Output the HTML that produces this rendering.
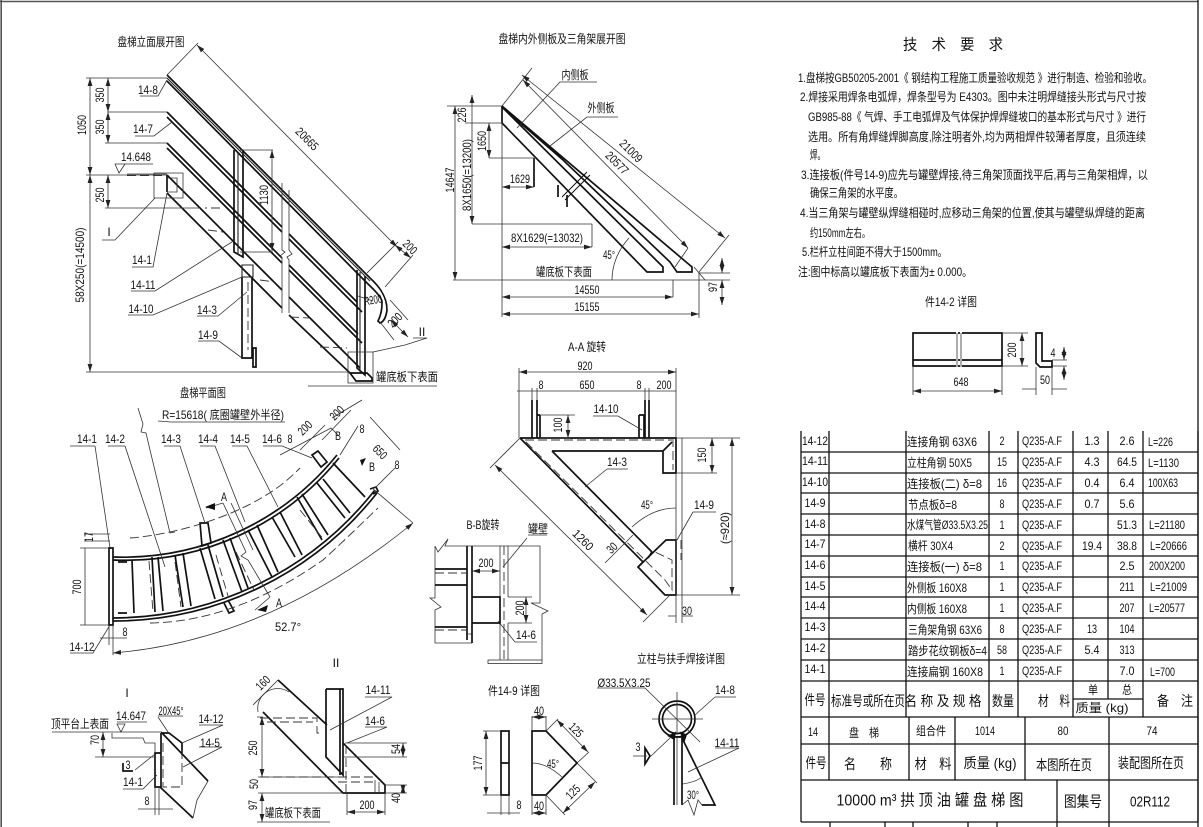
<!DOCTYPE html>
<html><head><meta charset="utf-8"><style>
html,body{margin:0;padding:0;background:#fff}
svg{display:block}
text{font-family:"Liberation Sans","Noto Sans CJK SC",sans-serif;font-size:12px;fill:#111;text-anchor:middle;dominant-baseline:central;stroke:none}
text.l{text-anchor:start}
text.b{font-size:14px}
.t{stroke:#333;stroke-width:.8;fill:none}
.h{stroke:#111;stroke-width:1.7;fill:none}
.m{stroke:#222;stroke-width:1.1;fill:none}
.da{stroke:#333;stroke-width:.9;fill:none;stroke-dasharray:9 4}
.a{stroke:#333;stroke-width:.8;fill:none;marker-start:url(#ar);marker-end:url(#ar)}
.tb{stroke:#111;stroke-width:1.3;fill:none}
</style></head><body>
<svg width="1203" height="827" viewBox="0 0 1203 827" xmlns="http://www.w3.org/2000/svg">
<defs><marker id="ar" viewBox="0 0 10 6" refX="10" refY="3" markerWidth="8" markerHeight="5" orient="auto-start-reverse" markerUnits="userSpaceOnUse"><path d="M0 0L10 3L0 6z" fill="#222"/></marker></defs>
<rect width="1203" height="827" fill="#fff"/>
<path d="M0 1.5H1198M1.2 0V827" stroke="#555" stroke-width="1.6" fill="none"/>
<path d="M1198 0V827" stroke="#111" stroke-width="1.3" fill="none"/>

<!-- ELEVATION -->
<text lengthAdjust="spacingAndGlyphs" x="151" y="42" textLength="67">盘梯立面展开图</text>
<g class="h">
<path d="M167 75L370 278C380 287 387 297 387 310C386 318 383 322 380 323L378 321C382 313 382 306 382 301C380 295 372 288 365 281L167 81"/>
<path d="M167 112L282 227M167 117L282 232M289 234L357 302M289 239L362 312M167 143L282 258M167 148L282 263M289 265L358 334M289 270L362 343M167 175L282 290M289 297L360 368M167 193L282 308M289 315L350 373"/>
<path d="M234 150V252L243 257V150M357 270V368L365 375V276M167 175V192"/>
<path d="M242 277V358H253M252 277V358M253 348H256V367H253z"/>
<path d="M350 373L367 373L372 378L372 381H356z"/>
</g>
<g class="m">
<path d="M167 78L370 281M238 153V255M360 272V372M242 277H253V265H242V277"/>
</g>
<path d="M282 183V250L285 252L280 256L282 258V313M289 190V250L292 254L287 257L289 260V313" class="t"/>
<path d="M248 282V350M208 230L223 232M220 208L205 208M260 280L275 282M290 317L310 318M320 347L347 348M127 175.500H167" class="da"/>
<g class="t">
<path d="M86 78H167M108 112H167M105 143H167M86 175H167M105 208H200M86 372H350"/>
<path d="M127 174H167M154 173H183V198H154zM167 178H177V192H167M348 352H373V383H348z"/>
<path d="M117 164H153M115 164H125L119 173z"/>
<path d="M140 96H158L167 80M135 136H154L172 122M102 240H115L155 198M132 267H153L167 193M131 291H155L235 240M128 315H153L242 277M197 316H218L247 292M198 341H219L242 358M413 338H427L405 345L373 352M308 386H437"/>
<path d="M167 75L198 43M367 273L398 242M385 287L413 255M240 150H273M240 252H273"/>
<path d="M373 301L358 296M390 300L408 320M380 322L394 340"/>
</g>
<path class="a" d="M90 78V175"/><path class="a" d="M90 175V372"/><path class="a" d="M108 78V112"/><path class="a" d="M108 112V143"/><path class="a" d="M108 175V208"/><path class="a" d="M197 45L397 247"/><path class="a" d="M395 245L411 258"/><path class="a" d="M272 150V251"/><path class="a" d="M391 320L408 337" />
<text lengthAdjust="spacingAndGlyphs" x="148" y="90" textLength="20">14-8</text><text lengthAdjust="spacingAndGlyphs" x="143" y="129" textLength="20">14-7</text><text x="109" y="232">I</text>
<text lengthAdjust="spacingAndGlyphs" x="142" y="260" textLength="20">14-1</text><text lengthAdjust="spacingAndGlyphs" x="143" y="285" textLength="25">14-11</text><text lengthAdjust="spacingAndGlyphs" x="141" y="309" textLength="25">14-10</text>
<text lengthAdjust="spacingAndGlyphs" x="207" y="310" textLength="20">14-3</text><text lengthAdjust="spacingAndGlyphs" x="208" y="335" textLength="20">14-9</text><text lengthAdjust="spacingAndGlyphs" x="136" y="157" textLength="30">14.648</text>
<text x="422" y="332">II</text><text lengthAdjust="spacingAndGlyphs" x="407" y="377" textLength="62">罐底板下表面</text><text lengthAdjust="spacingAndGlyphs" x="373" y="300" textLength="18" transform="rotate(-10 373 300)">R200</text>
<text lengthAdjust="spacingAndGlyphs" x="100" y="95" textLength="15" transform="rotate(-90 100 95)">350</text><text lengthAdjust="spacingAndGlyphs" x="100" y="127" textLength="15" transform="rotate(-90 100 127)">350</text><text lengthAdjust="spacingAndGlyphs" x="82" y="125" textLength="20" transform="rotate(-90 82 125)">1050</text>
<text lengthAdjust="spacingAndGlyphs" x="100" y="195" textLength="15" transform="rotate(-90 100 195)">250</text><text lengthAdjust="spacingAndGlyphs" x="80" y="265" textLength="75" transform="rotate(-90 80 265)">58X250(=14500)</text>
<text lengthAdjust="spacingAndGlyphs" x="264" y="195" textLength="20" transform="rotate(-90 264 195)">1130</text>
<text lengthAdjust="spacingAndGlyphs" x="307" y="139" textLength="27" transform="rotate(45 307 139)">20665</text><text lengthAdjust="spacingAndGlyphs" x="410" y="247" textLength="15" transform="rotate(45 410 247)">200</text><text lengthAdjust="spacingAndGlyphs" x="395" y="320" textLength="15" transform="rotate(-45 395 320)">200</text>

<!-- PLAN -->
<text lengthAdjust="spacingAndGlyphs" x="203" y="393" textLength="46">盘梯平面图</text>
<text lengthAdjust="spacingAndGlyphs" x="223" y="415" textLength="122">R=15618( 底圈罐壁外半径)</text>
<g class="h">
<path d="M113 557A275 275 0 0 0 337 455M113 560A275 275 0 0 0 339 458M113 618A335 335 0 0 0 375 490M113 621A335 335 0 0 0 377 493"/>
<path d="M109 548H113V625H109zM118 562H127M118 613H127"/>
<path d="M132 560L134 613M152 557L155 612M158 557L163 611M175 555L183 607M183 553L191 606M200 548L215 599M208 545L223 597M223 540L242 592M230 538L248 588M248 530L272 577M257 525L278 572M272 517L295 557M280 512L302 555M297 497L322 540M302 494L328 535M317 483L345 518M323 479L350 513M333 463L365 497"/>
<path d="M200 523H208L211 543L202 546zM228 600L234 611L229 613L224 603M312 455L318 451L327 462L321 467zM370 489L376 487L378 491L373 494"/>
</g>
<g class="da">
<path d="M130 538C170 535 225 520 263 497C280 487 290 478 300 468"/>
<path d="M150 623C220 622 280 590 323 560C345 540 360 525 378 508"/>
<path d="M149 561L153 612M175 562L181 607M216 555L228 596M236 552L254 590M300 510L324 540"/>
</g>
<g class="t">
<path d="M158 421L171 422H285M138 408L143 424L141 432L146 433L150 450L170 533M170 533L175 532"/>
<path d="M95 446H70M95 446L110 548M108 446H125L165 567M164 446H180L205 523M200 446H215L245 522M232 446H247L278 507M263 446H282L312 458"/>
<path d="M80 548H109M80 625H109M85 548V625"/>
<path d="M84 534H110M84 541H110"/>
<path d="M223 503L246 552L241 556L248 560L270 597M231 503L253 550M223 503L206 508M270 597L255 610M280 455L331 428L338 435M300 450L325 425"/>
<path d="M70 653H93L110 625M113 625V655M109 625V645M100 638H127"/>
<path d="M372 488L413 523M340 455L358 426M322 440L351 410M332 418L362 400M375 488L395 468M370 417L400 450"/>
</g>
<path class="a" d="M113 653Q270 640 413 523"/>
<text lengthAdjust="spacingAndGlyphs" x="87" y="439" textLength="20">14-1</text><text lengthAdjust="spacingAndGlyphs" x="115" y="439" textLength="20">14-2</text><text lengthAdjust="spacingAndGlyphs" x="171" y="439" textLength="20">14-3</text><text lengthAdjust="spacingAndGlyphs" x="208" y="439" textLength="20">14-4</text><text lengthAdjust="spacingAndGlyphs" x="240" y="439" textLength="20">14-5</text><text lengthAdjust="spacingAndGlyphs" x="272" y="439" textLength="20">14-6</text>
<text lengthAdjust="spacingAndGlyphs" x="288" y="627" textLength="26">52.7°</text><text lengthAdjust="spacingAndGlyphs" x="77" y="587" textLength="15" transform="rotate(-90 77 587)">700</text><text lengthAdjust="spacingAndGlyphs" x="89" y="537" textLength="10" transform="rotate(-90 89 537)">17</text><text lengthAdjust="spacingAndGlyphs" x="125" y="632" textLength="5">8</text><text lengthAdjust="spacingAndGlyphs" x="82" y="647" textLength="25">14-12</text>
<text lengthAdjust="spacingAndGlyphs" x="337" y="413" textLength="15" transform="rotate(-45 337 413)">200</text><text lengthAdjust="spacingAndGlyphs" x="305" y="428" textLength="15" transform="rotate(-45 305 428)">200</text><text lengthAdjust="spacingAndGlyphs" x="290" y="439" textLength="5">8</text><text lengthAdjust="spacingAndGlyphs" x="362" y="429" textLength="5">8</text><text lengthAdjust="spacingAndGlyphs" x="380" y="452" textLength="15" transform="rotate(45 380 452)">650</text><text lengthAdjust="spacingAndGlyphs" x="397" y="465" textLength="5">8</text>
<text lengthAdjust="spacingAndGlyphs" x="338" y="436" textLength="6">B</text><text lengthAdjust="spacingAndGlyphs" x="372" y="467" textLength="6">B</text><text lengthAdjust="spacingAndGlyphs" x="224" y="497" textLength="6">A</text><text lengthAdjust="spacingAndGlyphs" x="279" y="603" textLength="6">A</text>
<path d="M205 507L215 503L215 510zM257 610L268 605L266 612zM360 460L366 458L362 466zM325 430L335 432" fill="#111"/>

<!-- TOP MIDDLE -->
<text lengthAdjust="spacingAndGlyphs" x="562" y="39" textLength="127">盘梯内外侧板及三角架展开图</text>
<g class="h">
<path d="M502 106L692 267V272H677L670 262L563 160L502 107M502 107L663 267V272H647L502 123V106"/>
<path d="M534 158V187M558 185V197M567 195V207"/>
<path d="M562 197L587 172M565 200L590 175" stroke-width="1"/>
</g>
<g class="t">
<path d="M447 106H502M465 123H502M489 158H534M472 224H592M592 224V247M502 123V317M453 280H730M673 280V297M699 272V318M699 273H730"/>
<path d="M502 106L532 68M699 272L729 235M675 267L688 248M517 128L560 82H597M550 146L587 117H618M705 280L694 267"/>
<path d="M629 238C618 250 612 265 612 280"/>
</g>
<path class="a" d="M455 106V280"/><path class="a" d="M472 95V224"/><path class="a" d="M489 123V158"/><path class="a" d="M502 187H534"/><path class="a" d="M502 247H592"/><path class="a" d="M502 297H673"/><path class="a" d="M502 314H699"/><path class="a" d="M522 75L725 238"/><path class="a" d="M523 80L688 248"/><path class="a" d="M722 258V273"/><path class="a" d="M722 305V280"/>
<text lengthAdjust="spacingAndGlyphs" x="575" y="75" textLength="27">内侧板</text><text lengthAdjust="spacingAndGlyphs" x="601" y="108" textLength="27">外侧板</text><text lengthAdjust="spacingAndGlyphs" x="564" y="272" textLength="56">罐底板下表面</text>
<text lengthAdjust="spacingAndGlyphs" x="587" y="290" textLength="25">14550</text><text lengthAdjust="spacingAndGlyphs" x="587" y="307" textLength="25">15155</text><text lengthAdjust="spacingAndGlyphs" x="547" y="238" textLength="72">8X1629(=13032)</text><text lengthAdjust="spacingAndGlyphs" x="520" y="179" textLength="20">1629</text>
<text lengthAdjust="spacingAndGlyphs" x="482" y="141" textLength="20" transform="rotate(-90 482 141)">1650</text><text lengthAdjust="spacingAndGlyphs" x="462" y="115" textLength="15" transform="rotate(-90 462 115)">226</text><text lengthAdjust="spacingAndGlyphs" x="467" y="175" textLength="72" transform="rotate(-90 467 175)">8X1650(=13200)</text><text lengthAdjust="spacingAndGlyphs" x="450" y="180" textLength="25" transform="rotate(-90 450 180)">14647</text><text lengthAdjust="spacingAndGlyphs" x="713" y="287" textLength="10" transform="rotate(-90 713 287)">97</text>
<text lengthAdjust="spacingAndGlyphs" x="631" y="151" textLength="27" transform="rotate(45 631 151)">21009</text><text lengthAdjust="spacingAndGlyphs" x="617" y="163" textLength="27" transform="rotate(45 617 163)">20577</text><text lengthAdjust="spacingAndGlyphs" x="609" y="255" textLength="12">45°</text>

<!-- A-A -->
<text lengthAdjust="spacingAndGlyphs" x="587" y="347" textLength="38">A-A 旋转</text>
<g class="h">
<path d="M520 438H676V473H663V451L672 442M552 451H663M520 438L643 562M552 451L652 552M638 567L666 540H676V595H665L638 567L666 540"/>
<path d="M532 400V438M537 400V438M540 415V438M537 415H540M639 415V438M644 415V438M645 400V438M649 400V438M639 415H644"/>
<path d="M643 562L638 567M652 552L648 558" />
</g>
<g class="da"><path d="M525 440H672M526 442L665 580L672 590V560L655 552M673 438V470M681 540V560"/></g>
<g class="t">
<path d="M519 368V438M676 368V438M682 438V623M676 473V623M677 473H717M677 438H740M677 595H740"/>
<path d="M532 388V400M537 388V400M645 388V400M649 388V400"/>
<path d="M540 415H575M540 438H570M520 438L490 468M670 595L643 622"/>
<path d="M607 469H628M607 469L585 487M693 512H716M693 512L677 540M593 416H618L642 430M605 563L633 535"/>
<path d="M632 527C645 515 660 508 676 508"/>
<path d="M668 616H676M682 616H693"/>
</g>
<path class="a" d="M519 372H676"/><path d="M517 391H676" class="t"/><path class="a" d="M568 415V438"/><path class="a" d="M712 438V473"/><path class="a" d="M732 438V595"/><path class="a" d="M495 465L647 615"/>
<text lengthAdjust="spacingAndGlyphs" x="585" y="366" textLength="15">920</text><text lengthAdjust="spacingAndGlyphs" x="541" y="385" textLength="5">8</text><text lengthAdjust="spacingAndGlyphs" x="587" y="385" textLength="15">650</text><text lengthAdjust="spacingAndGlyphs" x="639" y="385" textLength="5">8</text><text lengthAdjust="spacingAndGlyphs" x="664" y="385" textLength="15">200</text>
<text lengthAdjust="spacingAndGlyphs" x="606" y="409" textLength="25">14-10</text><text lengthAdjust="spacingAndGlyphs" x="617" y="462" textLength="20">14-3</text><text lengthAdjust="spacingAndGlyphs" x="704" y="505" textLength="20">14-9</text><text lengthAdjust="spacingAndGlyphs" x="647" y="505" textLength="12">45°</text><text lengthAdjust="spacingAndGlyphs" x="687" y="611" textLength="10">30</text>
<text lengthAdjust="spacingAndGlyphs" x="558" y="425" textLength="15" transform="rotate(-90 558 425)">100</text><text lengthAdjust="spacingAndGlyphs" x="702" y="455" textLength="15" transform="rotate(-90 702 455)">150</text><text lengthAdjust="spacingAndGlyphs" x="725" y="528" textLength="32" transform="rotate(-90 725 528)">(≈920)</text><text lengthAdjust="spacingAndGlyphs" x="583" y="540" textLength="24" transform="rotate(45 583 540)">1260</text><text lengthAdjust="spacingAndGlyphs" x="612" y="548" textLength="10" transform="rotate(-45 612 548)">30</text>

<!-- B-B -->
<text lengthAdjust="spacingAndGlyphs" x="483" y="525" textLength="33">B-B旋转</text><text lengthAdjust="spacingAndGlyphs" x="538" y="529" textLength="20">罐壁</text>
<g class="t">
<path d="M435 546L438 552L448 539L445 546H540V603L531 603L548 611L542 614V660M435 546V598L430 598L441 607L435 610V643H472M500 546V660M508 546V597M508 623V660"/>
<rect x="488" y="660" width="54" height="3.500"/>
<path d="M508 597H532M508 623H532M528 535H547M527 538L503 567M515 642H537M515 642L498 621M468 634H472V643"/>
</g>
<g class="h"><path d="M467 546V640M472 546V643M435 569H467M435 585H467M435 627H467M472 597H500V623H472"/></g>
<path class="da" d="M435 573H467M435 630H467M504 546V660"/>
<path class="a" d="M472 571H500"/><path class="a" d="M526 597V623"/>
<text lengthAdjust="spacingAndGlyphs" x="486" y="563" textLength="15">200</text><text lengthAdjust="spacingAndGlyphs" x="520" y="608" textLength="15" transform="rotate(-90 520 608)">200</text><text lengthAdjust="spacingAndGlyphs" x="526" y="635" textLength="20">14-6</text>

<!-- DETAIL I -->
<text x="127" y="693">I</text><text lengthAdjust="spacingAndGlyphs" x="80" y="724" textLength="58">顶平台上表面</text><text lengthAdjust="spacingAndGlyphs" x="131" y="716" textLength="30">14.647</text><text lengthAdjust="spacingAndGlyphs" x="171" y="711" textLength="25">20X45°</text><text lengthAdjust="spacingAndGlyphs" x="211" y="719" textLength="25">14-12</text><text lengthAdjust="spacingAndGlyphs" x="210" y="743" textLength="20">14-5</text><text lengthAdjust="spacingAndGlyphs" x="128" y="765" textLength="5">3</text><text lengthAdjust="spacingAndGlyphs" x="133" y="782" textLength="20">14-1</text><text lengthAdjust="spacingAndGlyphs" x="147" y="801" textLength="5">8</text><text lengthAdjust="spacingAndGlyphs" x="95" y="740" textLength="10" transform="rotate(-90 95 740)">70</text>
<g class="h"><path d="M161 733H169L182 743V755M162 733L208 781M155 753H161V787H155zM161 733V787M160 787L193 818M123 763V771H133"/></g>
<path class="da" d="M163 743V787H182V750" stroke-dasharray="6 3"/>
<g class="t">
<path d="M52 732H162M117 722H147M117 724H125L121 732zM158 716H183M158 717L168 732M199 725H223L182 743M199 747H222L183 767"/>
<path d="M112 733V738H143L145 743H155V753M95 757H155M135 770L155 754M123 789H143L157 775M155 787V815M159 787V815M138 809H173M208 781L197 800L193 818"/>
</g>
<path class="a" d="M103 732V757"/>

<!-- DETAIL II -->
<text x="336" y="663">II</text><text lengthAdjust="spacingAndGlyphs" x="378" y="690" textLength="25">14-11</text><text lengthAdjust="spacingAndGlyphs" x="375" y="721" textLength="20">14-6</text><text lengthAdjust="spacingAndGlyphs" x="293" y="813" textLength="56">罐底板下表面</text><text lengthAdjust="spacingAndGlyphs" x="367" y="805" textLength="15">200</text>
<text lengthAdjust="spacingAndGlyphs" x="263" y="683" textLength="15" transform="rotate(-45 263 683)">160</text><text lengthAdjust="spacingAndGlyphs" x="253" y="748" textLength="15" transform="rotate(-90 253 748)">250</text><text lengthAdjust="spacingAndGlyphs" x="254" y="784" textLength="10" transform="rotate(-90 254 784)">50</text><text lengthAdjust="spacingAndGlyphs" x="253" y="805" textLength="10" transform="rotate(-90 253 805)">97</text><text lengthAdjust="spacingAndGlyphs" x="396" y="749" textLength="10" transform="rotate(-90 396 749)">54</text><text lengthAdjust="spacingAndGlyphs" x="396" y="798" textLength="10" transform="rotate(-90 396 798)">40</text>
<g class="h"><path d="M278 680L327 725M263 712L343 793H385V785L343 743M326 689V757L343 775V689H326M340 689V775"/></g>
<path class="da" d="M260 718H317V733H320M267 722H313M260 777H375M338 782H375M346 745V793" stroke-dasharray="7 3"/>
<g class="t">
<path d="M253 705L278 680M365 697H392L330 730M365 727H387L347 743M375 780V793M379 782V793"/>
<path d="M258 793H343M258 777H340M257 717H263M257 822H330M345 743H407M342 757H407M385 785H407M385 793H407M347 793V815M385 793V815"/>
</g>
<path class="a" d="M262 717V777"/><path class="a" d="M262 793V822"/><path class="a" d="M347 812H385"/><path class="a" d="M403 743V757"/><path class="a" d="M403 785V793"/>
<path class="t" d="M258 712A20 20 0 0 1 289 692"/>

<!-- 14-9 -->
<text lengthAdjust="spacingAndGlyphs" x="514" y="691" textLength="52">件14-9 详图</text><text lengthAdjust="spacingAndGlyphs" x="478" y="763" textLength="15" transform="rotate(-90 478 763)">177</text><text lengthAdjust="spacingAndGlyphs" x="519" y="805" textLength="5">8</text><text lengthAdjust="spacingAndGlyphs" x="539" y="711" textLength="10">40</text><text lengthAdjust="spacingAndGlyphs" x="539" y="806" textLength="10">40</text>
<text lengthAdjust="spacingAndGlyphs" x="576" y="730" textLength="15" transform="rotate(45 576 730)">125</text><text lengthAdjust="spacingAndGlyphs" x="573" y="792" textLength="15" transform="rotate(-45 573 792)">125</text><text lengthAdjust="spacingAndGlyphs" x="553" y="764" textLength="12">45°</text>
<g class="h"><path d="M501 731H509V795H501zM501 763H509M532 731H546L577 763L546 795H532z"/></g>
<g class="t">
<path d="M483 731H501M483 795H501M501 795V815M509 795V815M532 716V731M546 716V731M532 795V815M546 795V815M546 731L558 719M577 763L589 752M546 795L565 815M577 763L597 783M487 813H520"/>
<path d="M532 763C542 763 552 768 562 777"/>
</g>
<path class="a" d="M486 731V795"/><path class="a" d="M532 717H546"/><path class="a" d="M532 813H546"/><path class="a" d="M557 720L588 752"/><path class="a" d="M563 813L595 782"/>

<!-- WELD DETAIL -->
<text lengthAdjust="spacingAndGlyphs" x="681" y="659" textLength="88">立柱与扶手焊接详图</text><text lengthAdjust="spacingAndGlyphs" x="624" y="683" textLength="53">Ø33.5X3.25</text><text lengthAdjust="spacingAndGlyphs" x="725" y="690" textLength="20">14-8</text><text lengthAdjust="spacingAndGlyphs" x="727" y="743" textLength="25">14-11</text><text lengthAdjust="spacingAndGlyphs" x="638" y="747" textLength="5">3</text><text lengthAdjust="spacingAndGlyphs" x="693" y="795" textLength="12">30°</text>
<g class="h"><circle cx="677" cy="719" r="18"/><circle cx="677" cy="719" r="14.500"/><path d="M674 737V805M682 737V805M674 737H682M682 738L715 805H702M645 748L650 756L645 764z"/><path d="M669 736L675 733L674 739zM681 733L686 735L684 741z" fill="#111"/></g>
<g class="t">
<path d="M677 692V735M652 719H703M597 688H645L700 742M715 697H736M715 697L695 715M715 748H739L688 772M633 756H647M651 756L670 738M677 737V805M682 805L688 800L694 815L698 800L702 805"/>
<path d="M682 784C690 783 697 781 702 777"/>
</g>

<!-- TECH TEXT -->
<text lengthAdjust="spacingAndGlyphs" x="953" y="45" textLength="100" style="font-size:15px">技　术　要　求</text>
<text lengthAdjust="spacingAndGlyphs" class="l" x="798" y="78" textLength="354">1.盘梯按GB50205-2001《 钢结构工程施工质量验收规范 》进行制造、检验和验收。</text>
<text lengthAdjust="spacingAndGlyphs" class="l" x="800" y="97" textLength="346">2.焊接采用焊条电弧焊，焊条型号为 E4303。图中未注明焊缝接头形式与尺寸按</text>
<text lengthAdjust="spacingAndGlyphs" class="l" x="808" y="117" textLength="338">GB985-88《 气焊、手工电弧焊及气体保护焊焊缝坡口的基本形式与尺寸 》进行</text>
<text lengthAdjust="spacingAndGlyphs" class="l" x="808" y="137" textLength="338">选用。所有角焊缝焊脚高度,除注明者外,均为两相焊件较薄者厚度，且须连续</text>
<text lengthAdjust="spacingAndGlyphs" class="l" x="810" y="155" textLength="15">焊。</text>
<text lengthAdjust="spacingAndGlyphs" class="l" x="801" y="175" textLength="347">3.连接板(件号14-9)应先与罐壁焊接,待三角架顶面找平后,再与三角架相焊，以</text>
<text lengthAdjust="spacingAndGlyphs" class="l" x="810" y="193" textLength="93">确保三角架的水平度。</text>
<text lengthAdjust="spacingAndGlyphs" class="l" x="800" y="213" textLength="345">4.当三角架与罐壁纵焊缝相碰时,应移动三角架的位置,使其与罐壁纵焊缝的距离</text>
<text lengthAdjust="spacingAndGlyphs" class="l" x="810" y="233" textLength="60">约150mm左右。</text>
<text lengthAdjust="spacingAndGlyphs" class="l" x="802" y="252" textLength="145">5.栏杆立柱间距不得大于1500mm。</text>
<text lengthAdjust="spacingAndGlyphs" class="l" x="798" y="272" textLength="174">注:图中标高以罐底板下表面为± 0.000。</text>
<text lengthAdjust="spacingAndGlyphs" x="951" y="302" textLength="52">件14-2 详图</text>

<!-- 14-2 detail -->
<g class="h"><path d="M913 333H1002V366H913zM913 360H1002M1036 333H1042V361H1052V367H1040L1036 363z"/></g>
<g class="t"><path d="M1002 333H1028M1002 366H1028M913 366V395M1002 366V395M1036 367V395M1052 367V395M1052 360H1067M1052 366H1067M1022 389H1036M1052 389H1067"/></g>
<path d="M957 332V367M961 332V367" stroke="#fff" stroke-width="2"/><path d="M957 333V367M961 333V367" class="t"/>
<path class="a" d="M913 391H1002"/><path class="a" d="M1022 333V366"/><path class="a" d="M1064 347V360"/><path class="a" d="M1064 380V366"/>
<text lengthAdjust="spacingAndGlyphs" x="961" y="382" textLength="15">648</text><text lengthAdjust="spacingAndGlyphs" x="1012" y="350" textLength="15" transform="rotate(-90 1012 350)">200</text><text lengthAdjust="spacingAndGlyphs" x="1045" y="380" textLength="10">50</text><text lengthAdjust="spacingAndGlyphs" x="1053" y="353" textLength="5">4</text>

<!-- TABLE -->
<path class="tb" d="M801 431V822M829 431V717M906 431V717M989 431V717M1018 431V717M1073 431V717M1108 431V699M1143 431V717M1198 431V822
M801 452H1198M801 473H1198M801 493H1198M801 514H1198M801 535H1198M801 556H1198M801 577H1198M801 597H1198M801 618H1198M801 639H1198M801 660H1198M801 681H1198M801 717H1198M1073 699H1143M801 744H1198M801 780H1198M801 822H1198
M829 717V780M909 717V780M955 717V780M1025 717V780M1109 717V827M1057 780V827M830 822V827M885 822V827M913 822V827M968 822V827M997 822V827"/>
<g>
<text lengthAdjust="spacingAndGlyphs" x="815" y="441" textLength="26">14-12</text><text lengthAdjust="spacingAndGlyphs" x="815" y="461" textLength="26">14-11</text><text lengthAdjust="spacingAndGlyphs" x="815" y="482" textLength="26">14-10</text><text lengthAdjust="spacingAndGlyphs" x="815" y="503" textLength="21">14-9</text><text lengthAdjust="spacingAndGlyphs" x="815" y="524" textLength="21">14-8</text><text lengthAdjust="spacingAndGlyphs" x="815" y="544" textLength="21">14-7</text><text lengthAdjust="spacingAndGlyphs" x="815" y="565" textLength="21">14-6</text><text lengthAdjust="spacingAndGlyphs" x="815" y="586" textLength="21">14-5</text><text lengthAdjust="spacingAndGlyphs" x="815" y="606" textLength="21">14-4</text><text lengthAdjust="spacingAndGlyphs" x="815" y="627" textLength="21">14-3</text><text lengthAdjust="spacingAndGlyphs" x="815" y="648" textLength="21">14-2</text><text lengthAdjust="spacingAndGlyphs" x="815" y="669" textLength="21">14-1</text>
<text lengthAdjust="spacingAndGlyphs" class="l" x="907" y="442" textLength="70">连接角钢  63X6</text><text lengthAdjust="spacingAndGlyphs" class="l" x="907" y="463" textLength="65">立柱角钢 50X5</text><text lengthAdjust="spacingAndGlyphs" class="l" x="907" y="484" textLength="75">连接板(二) δ=8</text><text lengthAdjust="spacingAndGlyphs" class="l" x="908" y="505" textLength="49">节点板δ=8</text><text lengthAdjust="spacingAndGlyphs" class="l" x="907" y="525" textLength="81">水煤气管Ø33.5X3.25</text><text lengthAdjust="spacingAndGlyphs" class="l" x="908" y="546" textLength="45">横杆 30X4</text><text lengthAdjust="spacingAndGlyphs" class="l" x="907" y="567" textLength="75">连接板(一) δ=8</text><text lengthAdjust="spacingAndGlyphs" class="l" x="907" y="588" textLength="60">外侧板 160X8</text><text lengthAdjust="spacingAndGlyphs" class="l" x="907" y="609" textLength="60">内侧板 160X8</text><text lengthAdjust="spacingAndGlyphs" class="l" x="908" y="630" textLength="74">三角架角钢 63X6</text><text lengthAdjust="spacingAndGlyphs" class="l" x="908" y="651" textLength="79">踏步花纹钢板δ=4</text><text lengthAdjust="spacingAndGlyphs" class="l" x="907" y="672" textLength="76">连接扁钢  160X8</text>
<text lengthAdjust="spacingAndGlyphs" x="1002" y="441" textLength="5">2</text><text lengthAdjust="spacingAndGlyphs" x="1002" y="462" textLength="10">15</text><text lengthAdjust="spacingAndGlyphs" x="1002" y="483" textLength="10">16</text><text lengthAdjust="spacingAndGlyphs" x="1002" y="504" textLength="5">8</text><text lengthAdjust="spacingAndGlyphs" x="1002" y="525" textLength="5">1</text><text lengthAdjust="spacingAndGlyphs" x="1002" y="546" textLength="5">2</text><text lengthAdjust="spacingAndGlyphs" x="1002" y="566" textLength="5">1</text><text lengthAdjust="spacingAndGlyphs" x="1002" y="587" textLength="5">1</text><text lengthAdjust="spacingAndGlyphs" x="1002" y="608" textLength="5">1</text><text lengthAdjust="spacingAndGlyphs" x="1002" y="629" textLength="5">8</text><text lengthAdjust="spacingAndGlyphs" x="1002" y="650" textLength="10">58</text><text lengthAdjust="spacingAndGlyphs" x="1002" y="671" textLength="5">1</text>
<text lengthAdjust="spacingAndGlyphs" x="1042" y="441" textLength="40">Q235-A.F</text><text lengthAdjust="spacingAndGlyphs" x="1042" y="462" textLength="40">Q235-A.F</text><text lengthAdjust="spacingAndGlyphs" x="1042" y="483" textLength="40">Q235-A.F</text><text lengthAdjust="spacingAndGlyphs" x="1042" y="504" textLength="40">Q235-A.F</text><text lengthAdjust="spacingAndGlyphs" x="1042" y="525" textLength="40">Q235-A.F</text><text lengthAdjust="spacingAndGlyphs" x="1042" y="546" textLength="40">Q235-A.F</text><text lengthAdjust="spacingAndGlyphs" x="1042" y="566" textLength="40">Q235-A.F</text><text lengthAdjust="spacingAndGlyphs" x="1042" y="587" textLength="40">Q235-A.F</text><text lengthAdjust="spacingAndGlyphs" x="1042" y="608" textLength="40">Q235-A.F</text><text lengthAdjust="spacingAndGlyphs" x="1042" y="629" textLength="40">Q235-A.F</text><text lengthAdjust="spacingAndGlyphs" x="1042" y="650" textLength="40">Q235-A.F</text><text lengthAdjust="spacingAndGlyphs" x="1042" y="671" textLength="40">Q235-A.F</text>
<text lengthAdjust="spacingAndGlyphs" x="1092" y="441" textLength="15">1.3</text><text lengthAdjust="spacingAndGlyphs" x="1092" y="462" textLength="15">4.3</text><text lengthAdjust="spacingAndGlyphs" x="1092" y="483" textLength="15">0.4</text><text lengthAdjust="spacingAndGlyphs" x="1092" y="504" textLength="15">0.7</text><text lengthAdjust="spacingAndGlyphs" x="1092" y="546" textLength="20">19.4</text><text lengthAdjust="spacingAndGlyphs" x="1092" y="629" textLength="10">13</text><text lengthAdjust="spacingAndGlyphs" x="1092" y="650" textLength="15">5.4</text>
<text lengthAdjust="spacingAndGlyphs" x="1127" y="441" textLength="15">2.6</text><text lengthAdjust="spacingAndGlyphs" x="1127" y="462" textLength="20">64.5</text><text lengthAdjust="spacingAndGlyphs" x="1127" y="483" textLength="15">6.4</text><text lengthAdjust="spacingAndGlyphs" x="1127" y="504" textLength="15">5.6</text><text lengthAdjust="spacingAndGlyphs" x="1127" y="525" textLength="20">51.3</text><text lengthAdjust="spacingAndGlyphs" x="1127" y="546" textLength="20">38.8</text><text lengthAdjust="spacingAndGlyphs" x="1127" y="566" textLength="15">2.5</text><text lengthAdjust="spacingAndGlyphs" x="1127" y="587" textLength="15">211</text><text lengthAdjust="spacingAndGlyphs" x="1127" y="608" textLength="15">207</text><text lengthAdjust="spacingAndGlyphs" x="1127" y="629" textLength="15">104</text><text lengthAdjust="spacingAndGlyphs" x="1127" y="650" textLength="15">313</text><text lengthAdjust="spacingAndGlyphs" x="1127" y="671" textLength="15">7.0</text>
<text lengthAdjust="spacingAndGlyphs" class="l" x="1148" y="442" textLength="25">L=226</text><text lengthAdjust="spacingAndGlyphs" class="l" x="1148" y="463" textLength="31">L=1130</text><text lengthAdjust="spacingAndGlyphs" class="l" x="1148" y="483" textLength="30">100X63</text><text lengthAdjust="spacingAndGlyphs" class="l" x="1149" y="525" textLength="36">L=21180</text><text lengthAdjust="spacingAndGlyphs" class="l" x="1150" y="546" textLength="37">L=20666</text><text lengthAdjust="spacingAndGlyphs" class="l" x="1149" y="566" textLength="36">200X200</text><text lengthAdjust="spacingAndGlyphs" class="l" x="1150" y="587" textLength="37">L=21009</text><text lengthAdjust="spacingAndGlyphs" class="l" x="1149" y="608" textLength="36">L=20577</text><text lengthAdjust="spacingAndGlyphs" class="l" x="1150" y="672" textLength="25">L=700</text>
<text lengthAdjust="spacingAndGlyphs" class="b" x="815" y="700" textLength="21">件号</text><text lengthAdjust="spacingAndGlyphs" class="b" x="868" y="701" textLength="74">标准号或所在页</text><text lengthAdjust="spacingAndGlyphs" class="b" x="943" y="701" textLength="77">名 称 及 规 格</text><text lengthAdjust="spacingAndGlyphs" class="b" x="1003" y="701" textLength="22">数量</text><text lengthAdjust="spacingAndGlyphs" class="b" x="1054" y="701" textLength="32">材　料</text><text lengthAdjust="spacingAndGlyphs" x="1093" y="690" textLength="10">单</text><text lengthAdjust="spacingAndGlyphs" x="1127" y="690" textLength="10">总</text><text lengthAdjust="spacingAndGlyphs" x="1102" y="708" textLength="53">质量 (kg)</text><text lengthAdjust="spacingAndGlyphs" class="b" x="1175" y="701" textLength="36">备　注</text>
<text lengthAdjust="spacingAndGlyphs" x="813" y="732" textLength="10">14</text><text lengthAdjust="spacingAndGlyphs" x="864" y="733" textLength="30">盘　梯</text><text lengthAdjust="spacingAndGlyphs" x="931" y="731" textLength="30">组合件</text><text lengthAdjust="spacingAndGlyphs" x="985" y="731" textLength="20">1014</text><text lengthAdjust="spacingAndGlyphs" x="1063" y="731" textLength="11">80</text><text lengthAdjust="spacingAndGlyphs" x="1152" y="731" textLength="11">74</text>
<text lengthAdjust="spacingAndGlyphs" class="b" x="816" y="763" textLength="21">件号</text><text lengthAdjust="spacingAndGlyphs" class="b" x="868" y="764" textLength="48">名　　称</text><text lengthAdjust="spacingAndGlyphs" class="b" x="933" y="764" textLength="37">材　料</text><text lengthAdjust="spacingAndGlyphs" class="b" x="990" y="763" textLength="53">质量 (kg)</text><text lengthAdjust="spacingAndGlyphs" class="b" x="1064" y="765" textLength="56">本图所在页</text><text lengthAdjust="spacingAndGlyphs" class="b" x="1151" y="763" textLength="66">装配图所在页</text>
<text lengthAdjust="spacingAndGlyphs" x="930" y="801" textLength="187" style="font-size:16px">10000 m³ 拱 顶 油 罐 盘 梯 图</text><text lengthAdjust="spacingAndGlyphs" x="1083" y="802" textLength="38" style="font-size:15px">图集号</text><text lengthAdjust="spacingAndGlyphs" x="1150" y="802" textLength="40" style="font-size:15px">02R112</text>
</g>
</svg>
</body></html>
